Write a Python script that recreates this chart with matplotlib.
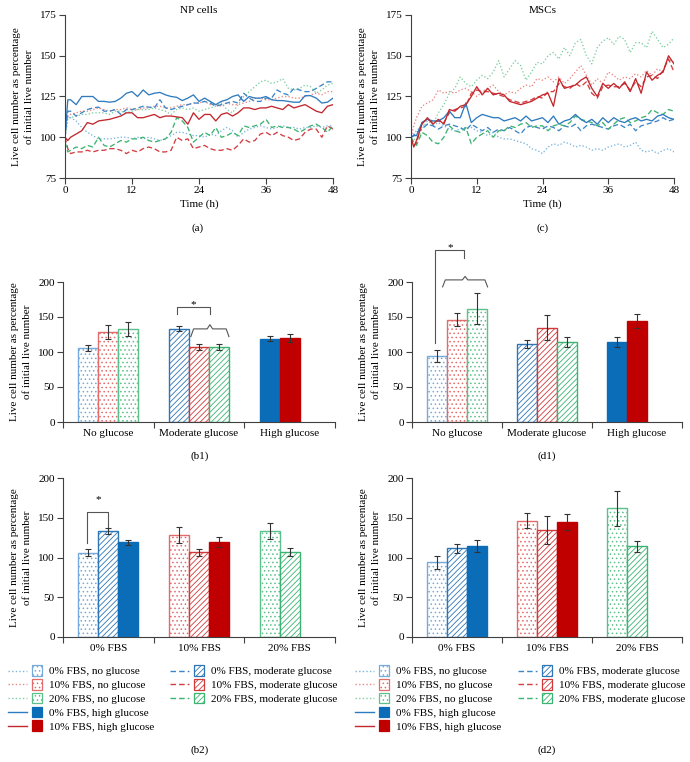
import matplotlib
matplotlib.use("Agg")
import matplotlib.pyplot as plt
from collections import namedtuple
from matplotlib.legend_handler import HandlerBase
from matplotlib.lines import Line2D
from matplotlib.patches import Rectangle

FS = 8
plt.rcParams['font.family'] = ['Liberation Serif', 'DejaVu Serif']
plt.rcParams['font.size'] = FS
plt.rcParams['hatch.linewidth'] = 0.6

W, H = 690, 762

# live cell number (% of initial) read every hour, plus one half-hour point
time_h = [0, 0.5] + list(range(1, 49))

# NP cells
np_blue_solid = [100, 123, 123, 120, 125, 125, 125, 122, 122, 121.5, 122, 124, 127, 128, 125, 129, 126,
                 127, 127.5, 126, 125, 124.5, 122.5, 124, 126, 122, 124, 122, 120, 122, 123, 125, 126,
                 122, 125, 124, 124, 125, 123, 122.5, 122.5, 122, 121.5, 121.5, 125.5, 125.5, 124, 121,
                 121.5, 124]
np_blue_dashed = [100, 116, 116, 113, 115, 117, 118, 118.5, 116, 116, 117, 114, 117, 117, 118, 119, 118.5,
                  118, 123, 118, 117, 118, 119, 120, 121, 121, 122, 121, 119, 120, 121, 122, 121, 127,
                  124, 122, 122, 124, 124, 129, 127, 126, 130, 129, 128, 128, 130, 132, 134, 134]
np_blue_dotted = [100, 113, 112, 110, 106, 103, 101, 99, 99, 99, 99.5, 100, 100, 99, 100, 99, 100, 99, 98,
                  99, 101, 103, 103, 102, 101, 101, 100, 102, 101, 104, 106, 104, 100, 103, 105, 106, 107,
                  106, 105, 106, 107, 106, 106, 105, 106, 106, 107, 106, 107, 107]
np_red_solid = [100, 98, 100, 102, 104, 109, 108, 110, 110.5, 111, 112, 113, 115, 115, 112, 112, 113, 114,
                112, 113, 113, 112.5, 112, 108, 115, 111, 114, 114, 110, 114, 115, 113, 115, 118, 118,
                117, 118, 118, 119, 118, 117, 120, 118, 119, 120, 118, 116, 115, 119, 120]
np_red_dashed = [100, 93, 90, 91, 91, 92, 91, 92, 92, 93, 93, 92, 90, 92, 91, 93, 94, 93, 91, 91, 92, 100,
                 98, 99, 93, 94, 95, 93, 92, 92, 93, 92, 95, 99, 97, 98, 102, 103, 101, 103, 101, 100, 98,
                 99, 103, 105, 105, 100, 107, 105]
np_red_dotted = [100, 113, 114, 115, 116, 116, 117, 118, 117, 116, 117, 117, 118, 117, 117, 118, 118, 119,
                 119, 118, 118, 119, 120, 120, 121, 121, 122, 120, 120, 119, 121, 120, 120, 121, 122, 124,
                 124, 123, 123, 124, 125, 125, 124, 124, 125, 126, 127, 126, 128, 128]
np_green_dashed = [97, 91, 92, 94, 93, 95, 94, 100, 95, 94, 96, 98, 97, 99, 99, 100, 98, 97, 98, 99, 103,
                   112, 110, 106, 97, 100, 103, 101, 106, 100, 101, 103, 101, 107, 106, 107, 108, 111, 106,
                   107, 106, 106, 105, 103, 105, 107, 108, 106, 103, 107]
np_green_dotted = [100, 112, 112, 113, 114, 114, 115, 115, 115, 114, 116, 116, 115, 116, 117, 117, 117, 118,
                   117, 116, 114, 117, 118, 117, 118, 116, 117, 118, 119, 121, 117, 115, 120, 125, 128, 131,
                   134, 135, 133, 134, 136, 130, 129, 130, 132, 131, 127, 129, 132, 133]

# MSCs
msc_blue_solid = [100, 101, 101, 109, 111, 110, 110, 112, 116, 112, 112, 121, 109, 112, 114, 113, 112, 112,
                  110, 111, 112, 110, 113, 110, 111, 112, 109, 113, 108, 110, 111, 114, 111, 109, 111, 108,
                  112, 109, 112, 110, 109, 111, 112, 110, 111, 110, 113, 114, 112, 111]
msc_blue_dashed = [100, 101, 103, 105, 108, 107, 105, 107, 108, 107, 106, 104, 108, 106, 104, 106, 103, 105,
                   104, 106, 104, 102, 106, 107, 106, 105, 107, 106, 104, 107, 106, 108, 104, 107, 108, 107,
                   106, 105, 107, 108, 106, 108, 104, 107, 108, 109, 110, 112, 110, 111]
msc_blue_dotted = [100, 102, 104, 107, 108, 107, 109, 107, 105, 104, 105, 106, 106, 104, 103, 101, 103, 100,
                   99, 99, 98, 97, 96, 93, 92, 90, 94, 96, 95, 97, 96, 94, 95, 94, 92, 93, 92, 94, 95, 96,
                   94, 95, 97, 92, 91, 92, 90, 92, 93, 91]
msc_red_solid = [100, 94, 98, 108, 112, 108, 111, 108, 117, 116, 119, 120, 125, 131, 126, 130, 126, 127, 126,
                 122, 121, 120, 121, 122, 124, 126, 127, 119, 136, 130, 131, 132, 135, 137, 130, 125, 133,
                 130, 133, 130, 134, 128, 136, 127, 140, 135, 138, 140, 150, 145]
msc_red_dashed = [100, 95, 96, 109, 111, 109, 110, 109, 115, 117, 118, 119, 127, 129, 128, 128, 127, 126, 125,
                  123, 122, 121, 122, 123, 125, 124, 128, 128, 133, 131, 130, 133, 131, 134, 127, 124, 131,
                  132, 131, 131, 133, 129, 134, 131, 137, 138, 136, 141, 148, 140]
msc_red_dotted = [100, 107, 112, 119, 121, 123, 129, 127, 128, 127, 129, 130, 128, 125, 128, 130, 132, 128,
                  126, 128, 127, 130, 132, 131, 136, 135, 137, 134, 137, 133, 136, 140, 144, 138, 132, 136,
                  133, 140, 138, 135, 137, 136, 139, 137, 141, 138, 142, 140, 148, 146]
msc_green_dashed = [100, 97, 95, 103, 101, 97, 96, 100, 107, 104, 103, 106, 96, 100, 102, 104, 100, 104, 104,
                    107, 106, 108, 109, 106, 107, 107, 104, 107, 108, 107, 109, 113, 111, 110, 109, 107, 109,
                    105, 108, 111, 112, 109, 110, 112, 113, 117, 115, 114, 117, 116]
msc_green_dotted = [100, 99, 98, 105, 110, 108, 115, 120, 127, 130, 137, 133, 131, 135, 138, 136, 140, 147,
                    137, 142, 147, 144, 135, 140, 146, 145, 150, 152, 148, 155, 150, 158, 160, 150, 145, 155,
                    159, 161, 157, 162, 160, 152, 158, 158, 155, 165, 160, 155, 157, 161]

# 48 h values, mean and error, ordered 0%, 10%, 20% FBS
glucose_levels = ['no', 'moderate', 'high']
glucose_labels = ['No glucose', 'Moderate glucose', 'High glucose']
fbs_labels = ['0% FBS', '10% FBS', '20% FBS']

np_no_glucose = [106, 128, 133]
np_no_glucose_err = [4.5, 10, 10]
np_moderate = [133.5, 106.5, 107]
np_moderate_err = [3.5, 4.3, 4.7]
np_high = [119, 120]
np_high_err = [3.6, 6.4]

msc_no_glucose = [94, 146, 162]
msc_no_glucose_err = [8.3, 9.5, 22]
msc_moderate = [111.5, 135, 114]
msc_moderate_err = [5.5, 17.5, 7]
msc_high = [114, 145]
msc_high_err = [7.5, 10]

# styles
line_color = {'no': ['#7ab5de', '#e88585', '#7ccfa0'],
              'moderate': ['#3f86c8', '#d33c40', '#3cb371'],
              'high': ['#2f7bbf', '#c1272d', None]}
line_style = {'no': (0, (1, 1.6)), 'moderate': (0, (4, 2.2)), 'high': '-'}
bar_edge = {'no': ['#74abdc', '#e36b6b', '#5cc08a'],
            'moderate': ['#2e75b6', '#d03a3a', '#3cb371'],
            'high': ['#0b6cb8', '#c00000', None]}
AXC = '#404040'
BAR_W = 0.22
offsets = [-BAR_W, 0, BAR_W]
YLABEL = 'Live cell number as percentage\nof initial live number'

Key = namedtuple('Key', 'fbs glucose')


def bar_style(fbs, glucose):
    edge = bar_edge[glucose][fbs]
    if glucose == 'high':
        return dict(facecolor=edge, edgecolor=edge)
    hatch = '....' if glucose == 'no' else '//////'
    return dict(facecolor='white', edgecolor=edge, hatch=hatch)


class LineBoxHandler(HandlerBase):
    # line sample followed by a small bar swatch
    def create_artists(self, legend, orig_handle, xdescent, ydescent, width, height, fontsize, trans):
        fbs, glucose = orig_handle.fbs, orig_handle.glucose
        y = height / 2 - ydescent
        side = 0.95 * fontsize
        x0 = -xdescent
        line = Line2D([x0, x0 + width - side - 0.4 * fontsize], [y, y],
                      color=line_color[glucose][fbs], ls=line_style[glucose], lw=1)
        box = Rectangle((x0 + width - side, y - side / 2), side, side, lw=0.9, **bar_style(fbs, glucose))
        line.set_transform(trans)
        box.set_transform(trans)
        return [line, box]


def px_axes(fig, l, t, r, b):
    return fig.add_axes([l / W, 1 - b / H, (r - l) / W, (b - t) / H])


def style_axes(ax):
    for s in ['top', 'right']:
        ax.spines[s].set_visible(False)
    for s in ['left', 'bottom']:
        ax.spines[s].set_color(AXC)
        ax.spines[s].set_linewidth(0.8)
    ax.tick_params(direction='out', length=4, width=0.8, color=AXC, labelsize=FS, pad=2)
    ax.set_ylabel(YLABEL, linespacing=1.6, labelpad=4)


def line_panel(ax, series, title):
    for values, fbs, glucose in series:
        ax.plot(time_h, values, color=line_color[glucose][fbs], ls=line_style[glucose], lw=0.95)
    ax.set_xlim(0, 48)
    ax.set_ylim(75, 175)
    ax.set_xticks([0, 12, 24, 36, 48])
    ax.set_yticks([75, 100, 125, 150, 175])
    ax.tick_params(axis='x', pad=4)
    ax.set_xlabel('Time (h)', labelpad=3)
    ax.set_title(title, fontsize=FS, pad=1)
    style_axes(ax)


def bar_panel(ax, table, group_by):
    for gi in range(3):
        for si in range(3):
            if group_by == 'glucose':
                glucose, fbs = glucose_levels[gi], si
            else:
                glucose, fbs = glucose_levels[si], gi
            vals, errs = table[glucose]
            if fbs >= len(vals):
                continue
            x = gi + offsets[si]
            ax.bar(x, vals[fbs], BAR_W, lw=1.0, zorder=2, **bar_style(fbs, glucose))
            ax.errorbar(x, vals[fbs], yerr=errs[fbs], fmt='none', ecolor='#333333',
                        elinewidth=0.8, capsize=2.5, capthick=0.8, zorder=3)
    ax.set_xlim(-0.5, 2.5)
    ax.set_ylim(0, 200)
    ax.set_yticks([0, 50, 100, 150, 200])
    ax.set_xticks([0, 1, 2], glucose_labels if group_by == 'glucose' else fbs_labels)
    ax.set_xticks([-0.5, 0.5, 1.5, 2.5], minor=True)
    style_axes(ax)
    ax.tick_params(axis='x', which='major', length=0, pad=5)
    ax.tick_params(axis='x', which='minor', length=4, width=0.8, color=AXC)


def bracket(ax, x0, x1, y_top, y0, y1, star_y):
    ax.plot([x0, x0, x1, x1], [y0, y_top, y_top, y1], color='#555555', lw=0.8, clip_on=False)
    ax.text((x0 + x1) / 2, star_y, '*', ha='center', va='center', fontsize=FS)


def brace(ax, x0, x1, xm, y, y_leg, y_peak):
    d = 0.03
    ax.plot([x0, x0 + d, xm - d, xm, xm + d, x1 - d, x1],
            [y_leg, y, y, y_peak, y, y, y_leg], color='#555555', lw=0.8, clip_on=False)


def legends(fig, left_x, right_x, top_y):
    left = [Key(0, 'no'), Key(1, 'no'), Key(2, 'no'), Key(0, 'high'), Key(1, 'high')]
    right = [Key(0, 'moderate'), Key(1, 'moderate'), Key(2, 'moderate')]
    for keys, x in [(left, left_x), (right, right_x)]:
        labels = ['%s, %s glucose' % (fbs_labels[k.fbs], k.glucose) for k in keys]
        fig.legend(keys, labels, loc='upper left', bbox_to_anchor=(x / W, 1 - top_y / H),
                   frameon=False, handlelength=3.1, handleheight=0.9, handletextpad=0.6,
                   labelspacing=0.3, borderpad=0, borderaxespad=0, fontsize=FS,
                   handler_map={Key: LineBoxHandler()})


fig = plt.figure(figsize=(W / 100, H / 100), dpi=100)

np_series = [(np_blue_dotted, 0, 'no'), (np_red_dotted, 1, 'no'), (np_green_dotted, 2, 'no'),
             (np_blue_dashed, 0, 'moderate'), (np_red_dashed, 1, 'moderate'), (np_green_dashed, 2, 'moderate'),
             (np_blue_solid, 0, 'high'), (np_red_solid, 1, 'high')]
msc_series = [(msc_blue_dotted, 0, 'no'), (msc_red_dotted, 1, 'no'), (msc_green_dotted, 2, 'no'),
              (msc_blue_dashed, 0, 'moderate'), (msc_red_dashed, 1, 'moderate'),
              (msc_green_dashed, 2, 'moderate'),
              (msc_blue_solid, 0, 'high'), (msc_red_solid, 1, 'high')]

np_table = {'no': (np_no_glucose, np_no_glucose_err), 'moderate': (np_moderate, np_moderate_err),
            'high': (np_high, np_high_err)}
msc_table = {'no': (msc_no_glucose, msc_no_glucose_err), 'moderate': (msc_moderate, msc_moderate_err),
             'high': (msc_high, msc_high_err)}

ax_a = px_axes(fig, 65, 15, 333, 178)
line_panel(ax_a, np_series, 'NP cells')
ax_c = px_axes(fig, 411, 15, 674, 178)
line_panel(ax_c, msc_series, 'MSCs')

ax_b1 = px_axes(fig, 63, 282, 335, 422)
bar_panel(ax_b1, np_table, 'glucose')
bracket(ax_b1, 0.76, 1.12, 165, 154, 154, 168)
brace(ax_b1, 0.91, 1.33, 1.12, 133, 122, 139)

ax_d1 = px_axes(fig, 412, 282, 682, 422)
bar_panel(ax_d1, msc_table, 'glucose')
bracket(ax_d1, -0.24, 0.08, 246, 113, 234, 249)
brace(ax_d1, -0.16, 0.34, 0.09, 203, 193, 208)

ax_b2 = px_axes(fig, 63, 478, 335, 637)
bar_panel(ax_b2, np_table, 'fbs')
bracket(ax_b2, -0.23, 0.0, 157.6, 118, 135, 172.7)

ax_d2 = px_axes(fig, 412, 478, 682, 637)
bar_panel(ax_d2, msc_table, 'fbs')

legends(fig, 8, 170, 666)
legends(fig, 355, 518, 666)

for label, x, y in [('(a)', 198, 228), ('(c)', 543, 228), ('(b1)', 200, 456), ('(d1)', 547, 456),
                    ('(b2)', 200, 750), ('(d2)', 547, 750)]:
    fig.text(x / W, 1 - y / H, label, ha='center', va='center', fontsize=FS)

fig.savefig('out.png', dpi=100)
